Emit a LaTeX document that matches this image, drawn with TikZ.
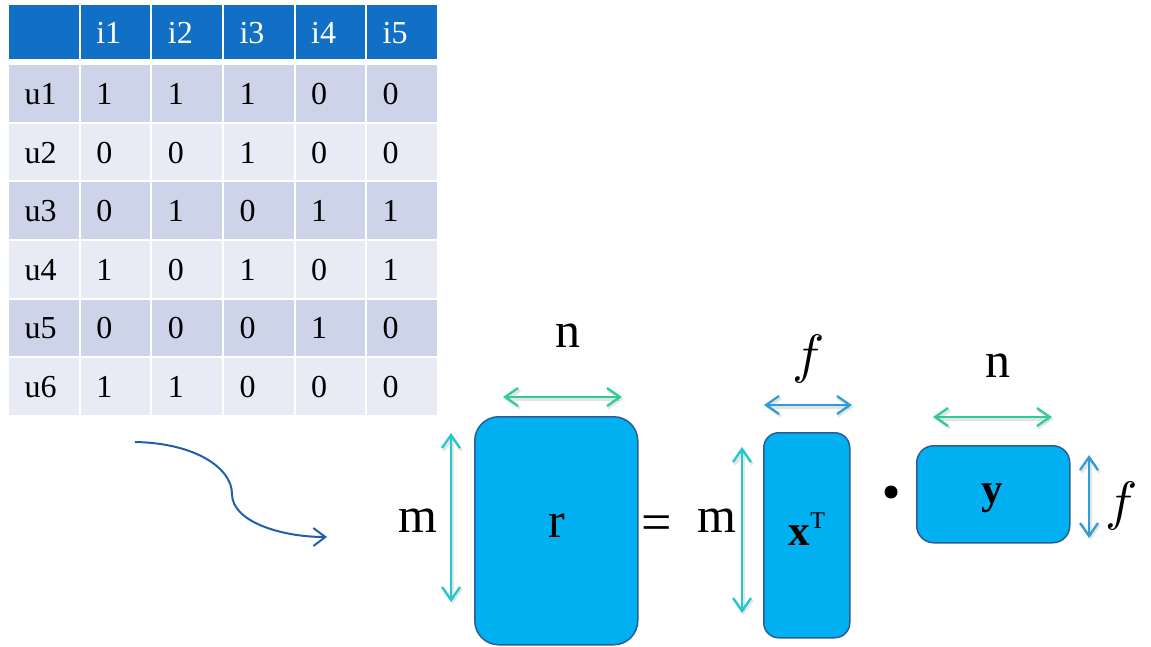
\documentclass[tikz,border=0pt]{standalone}
\usepackage{fontspec}
\setmainfont{Liberation Serif}
\usetikzlibrary{arrows.meta}

\definecolor{hdr}{HTML}{1170C6}
\definecolor{bandA}{HTML}{CDD4E9}
\definecolor{bandB}{HTML}{E8EBF5}
\definecolor{mat}{HTML}{00B0F0}
\definecolor{matline}{HTML}{2A5C96}
\definecolor{dimn}{HTML}{2ECC99}
\definecolor{dimm}{HTML}{22C8D0}
\definecolor{dimf}{HTML}{2F9ED8}
\definecolor{flow}{HTML}{1F5FAD}

% italic f of the feature dimension, enlarged from the math font
\newcommand{\featf}{\scalebox{5.4}{$f$}}

\tikzset{
  cellbase/.style={anchor=north west, minimum width=69.5pt, inner xsep=15.5pt,
    inner ysep=0pt, text width=38.5pt, align=left, text height=22pt, text depth=0pt,
    font=\fontsize{32}{32}\selectfont},
  hdrcell/.style={cellbase, fill=hdr, text=white, minimum height=54pt},
  oddcell/.style={cellbase, fill=bandA, minimum height=56.6pt},
  evencell/.style={cellbase, fill=bandB, minimum height=56.6pt},
  matbox/.style={fill=mat, draw=matline, line width=1.5pt, inner sep=0pt},
  biglbl/.style={anchor=base, inner sep=0pt, font=\fontsize{50}{50}\selectfont},
  flbl/.style={anchor=base, inner sep=0pt},
  boldlbl/.style={anchor=base, inner sep=0pt, font=\fontsize{43}{43}\selectfont\bfseries},
  dimarrow/.style={line width=2.3pt, {Straight Barb[length=13pt,width=18pt]}-{Straight Barb[length=13pt,width=18pt]},
    preaction={draw=black!60, opacity=0.18, line width=3pt,
      transform canvas={xshift=1.5pt, yshift=-2pt}}},
}

\begin{document}
\begin{tikzpicture}[x=1pt, y=-1pt]
\useasboundingbox (0,0) rectangle (1151,646);

% rating table: header row, then six users
\foreach \row [count=\ri from 0] in {
    {{},i1,i2,i3,i4,i5},
    {u1,1,1,1,0,0},
    {u2,0,0,1,0,0},
    {u3,0,1,0,1,1},
    {u4,1,0,1,0,1},
    {u5,0,0,0,1,0},
    {u6,1,1,0,0,0}}{
  \foreach \val [count=\ci from 0] in \row {
    \ifnum\ri=0
      \def\cellstyle{hdrcell}\def\ytop{5}
    \else
      \ifodd\ri \def\cellstyle{oddcell}\else\def\cellstyle{evencell}\fi
      \pgfmathsetmacro\ytop{65+58.6*(\ri-1)}
    \fi
    \node[\cellstyle] (t-\ri-\ci) at ({9+71.6*\ci},\ytop) {\val};
  }
}

% curved flow arrow from the table to the factorisation
\coordinate (flowA) at (135,442);
\coordinate (flowB) at (327,537);
\draw[flow, line width=2pt, -{Straight Barb[length=12pt,width=18pt]}]
  (flowA) .. controls (195,443) and (232,468) .. (232,494)
          .. controls (232,522) and (282,537) .. (flowB);

% matrices
\node[matbox, rounded corners=24pt, minimum width=163pt, minimum height=228pt, anchor=north west]
  (R) at (474,416) {};
\node[matbox, rounded corners=15pt, minimum width=86pt, minimum height=205pt, anchor=north west]
  (X) at (763,432) {};
\node[matbox, rounded corners=17pt, minimum width=153pt, minimum height=97pt, anchor=north west]
  (Y) at (916,445) {};

\node[biglbl] (rlbl) at (557,537) {r};
\node[biglbl, font=\fontsize{54}{54}\selectfont] (eq) at (657,540) {=};
\node[boldlbl] (xlbl) at (807,545) {x\fontsize{24}{24}\selectfont\mdseries\raisebox{17pt}{T}};
\node[boldlbl] (ylbl) at (992,503) {y};
\fill (891,492) circle (6.5pt) coordinate (dot);

% dimension labels
\node[biglbl] (mR) at (418,532) {m};
\node[biglbl] (nR) at (568,347) {n};
\node[biglbl] (mX) at (717,532) {m};
\node[flbl] (fX) at (809,372) {\featf};
\node[biglbl] (nY) at (998,377) {n};
\node[flbl] (fY) at (1122,519) {\featf};

% dimension arrows
\coordinate (rn1) at (503,397); \coordinate (rn2) at (622,397);
\coordinate (rm1) at (451,433); \coordinate (rm2) at (451,602);
\coordinate (xf1) at (764,405); \coordinate (xf2) at (852,405);
\coordinate (xm1) at (742,447); \coordinate (xm2) at (742,613);
\coordinate (yn1) at (933,417); \coordinate (yn2) at (1052,417);
\coordinate (yf1) at (1089,455); \coordinate (yf2) at (1089,538);

\draw[dimarrow, dimn] (rn1) -- (rn2);
\draw[dimarrow, dimm] (rm1) -- (rm2);
\draw[dimarrow, dimf] (xf1) -- (xf2);
\draw[dimarrow, dimm] (xm1) -- (xm2);
\draw[dimarrow, dimn] (yn1) -- (yn2);
\draw[dimarrow, dimf] (yf1) -- (yf2);
\end{tikzpicture}
\end{document}
